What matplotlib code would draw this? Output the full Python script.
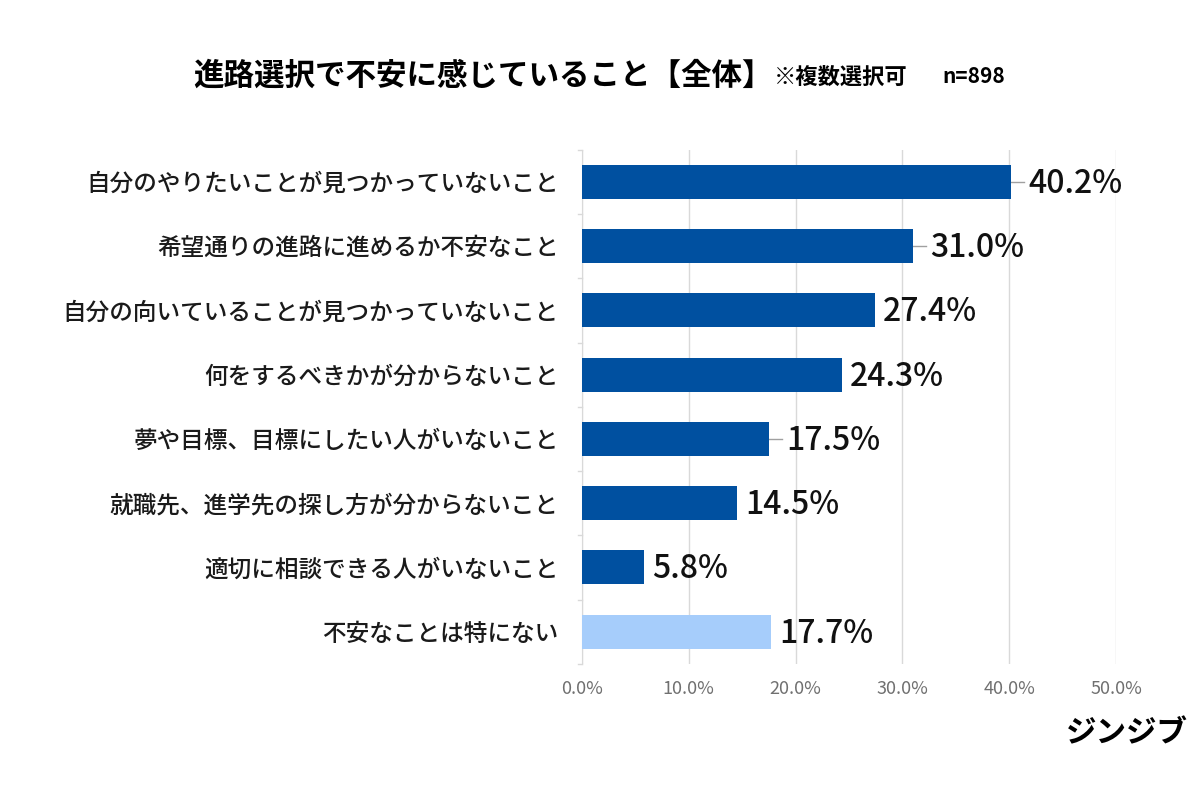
import matplotlib.pyplot as plt
from matplotlib.ticker import FuncFormatter

plt.rcParams['font.family'] = ['Noto Sans CJK JP', 'DejaVu Sans']

# ── Data ───────────────────────────────────────────────
categories = [
    "自分のやりたいことが見つかっていないこと",
    "希望通りの進路に進めるか不安なこと",
    "自分の向いていることが見つかっていないこと",
    "何をするべきかが分からないこと",
    "夢や目標、目標にしたい人がいないこと",
    "就職先、進学先の探し方が分からないこと",
    "適切に相談できる人がいないこと",
    "不安なことは特にない",
]
values = [40.2, 31.0, 27.4, 24.3, 17.5, 14.5, 5.8, 17.7]
colors = ["#0050a0"] * 7 + ["#a6cdfb"]
xticks = [0, 10, 20, 30, 40, 50]

# ── Plot ───────────────────────────────────────────────
fig = plt.figure(figsize=(12, 7.93), dpi=100)
ax = fig.add_axes([0.485, 0.163, 0.445, 0.648])

ypos = list(range(len(categories)))
ax.barh(ypos, values, height=0.53, color=colors, zorder=3)
ax.set_ylim(len(categories) - 0.5, -0.5)
ax.set_xlim(0, 50)
ax.set_xticks(xticks)
ax.xaxis.set_major_formatter(FuncFormatter(lambda v, p: f"{v:.1f}%"))
ax.grid(axis="x", color="#d9d9d9", linewidth=1, zorder=0)

for s in ["top", "right", "bottom"]:
    ax.spines[s].set_visible(False)
ax.spines["left"].set_color("#d9d9d9")
ax.tick_params(axis="x", length=0, labelsize=13, labelcolor="#707070", pad=12)
ax.set_yticks(ypos)
ax.set_yticklabels(categories, fontsize=17, fontweight="medium", color="#1a1a1a")
ax.tick_params(axis="y", length=0, pad=17)
# small category boundary ticks on the left axis
for b in [i - 0.5 for i in range(len(categories) + 1)]:
    ax.plot([-0.35, 0], [b, b], color="#d9d9d9", lw=1, clip_on=False)

# value labels
for i, v in enumerate(values):
    offset = 1.6 if i in (0, 1, 4) else 0.8
    if offset > 1:
        ax.plot([v, v + 1.2], [i, i], color="#a0a0a0", lw=1, zorder=2)
    ax.text(v + offset, i + 0.03, f"{v:.1f}%", va="center", ha="left",
            fontsize=23, fontweight="medium", color="#111111")

fig.text(0.161, 0.905, "進路選択で不安に感じていること【全体】",
         fontsize=22, fontweight="bold", va="center", ha="left")
fig.text(0.645, 0.903, "※複数選択可", fontsize=16, fontweight="bold",
         va="center", ha="left")
fig.text(0.785, 0.903, "n=898", fontsize=15, fontweight="bold",
         va="center", ha="left")
fig.text(0.99, 0.075, "ジンジブ", fontsize=22, fontweight="bold",
         va="center", ha="right", style="italic")

fig.savefig("out.png", dpi=100)
